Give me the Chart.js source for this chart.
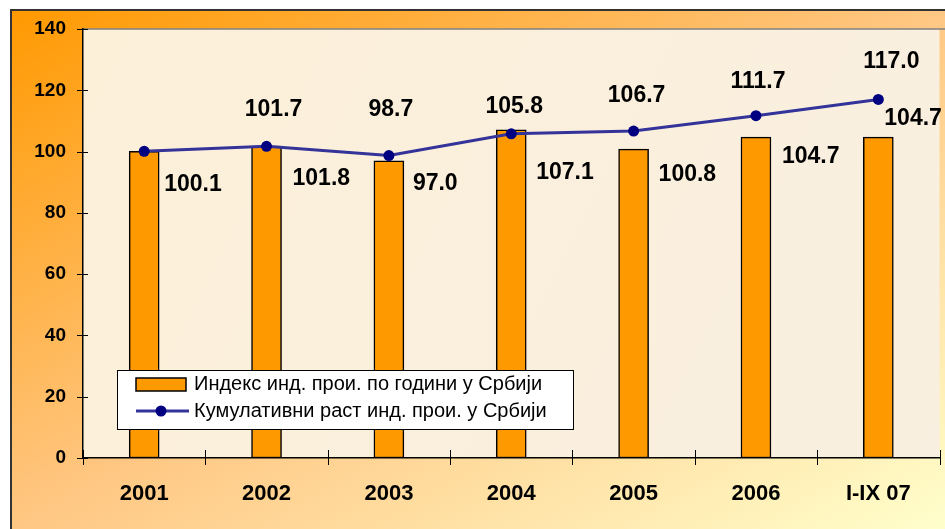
<!DOCTYPE html>
<html>
<head>
<meta charset="utf-8">
<script src="https://cdn.jsdelivr.net/npm/chart.js@4.4.0/dist/chart.umd.min.js"></script>
<style>
  html, body { margin: 0; padding: 0; background: #fff; }
  canvas { display: block; }
</style>
</head>
<body>
<canvas id="chart" width="945" height="529"></canvas>
<script>
// --- data ---
const CATEGORIES = ['2001', '2002', '2003', '2004', '2005', '2006', 'I-IX 07'];
const INDEX_BY_YEAR = [100.1, 101.8, 97.0, 107.1, 100.8, 104.7, 104.7];
const CUMULATIVE = [100.1, 101.7, 98.7, 105.8, 106.7, 111.7, 117.0];
const SHOW_CUM_LABEL = [false, true, true, true, true, true, true];
const SERIES_NAMES = [
  'Индекс инд. прои. по години у Србији',
  'Кумулативни раст инд. прои. у Србији'
];
const Y_MIN = 0, Y_MAX = 140, Y_STEP = 20;

// label placement (hand-placed in the original): [dx, dy] in px
const BAR_LABEL_POS  = [[5, 33], [11, 33], [9, 23], [10, 43], [10, 26], [11, 19], [-9, -19]];
const LINE_LABEL_POS = [[0, -36], [7, -37], [2, -46], [3, -27], [3, -35], [2, -34], [13, -38]];

const FONT = '"Liberation Sans", Arial, sans-serif';
const ORANGE = '#FF9900';
const NAVY_LINE = '#333399';
const NAVY_DOT = '#000080';

Chart.defaults.font.family = FONT;
Chart.defaults.color = '#000';

// frame background + plot area
const framePlugin = {
  id: 'frame',
  beforeDraw(chart) {
    const { ctx, width, height, chartArea: a } = chart;
    ctx.save();
    ctx.fillStyle = '#fff';
    ctx.fillRect(0, 0, width, height);

    ctx.save();
    ctx.translate(10, 9);
    ctx.scale(width - 10, height - 9);
    const g = ctx.createLinearGradient(0, 0, 1, 1);
    g.addColorStop(0, '#FF9900');
    g.addColorStop(0.5, '#FFC783');
    g.addColorStop(1, '#FFFFCC');
    ctx.fillStyle = g;
    ctx.fillRect(0, 0, 1, 1);
    ctx.restore();

    ctx.strokeStyle = '#333';
    ctx.lineWidth = 2;
    ctx.beginPath();
    ctx.moveTo(11, height);
    ctx.lineTo(11, 10);
    ctx.lineTo(width, 10);
    ctx.stroke();

    const pg = ctx.createLinearGradient(a.left, a.top, a.right, a.bottom);
    pg.addColorStop(0, '#FCF0D9');
    pg.addColorStop(1, '#F9EFE0');
    ctx.fillStyle = pg;
    ctx.fillRect(a.left, a.top, a.right - a.left, a.bottom - a.top);

    ctx.strokeStyle = '#808080';
    ctx.lineWidth = 1.5;
    ctx.beginPath();
    ctx.moveTo(a.left, a.top);
    ctx.lineTo(width, a.top);
    ctx.stroke();
    ctx.restore();
  }
};

// tick marks crossing the axes
const tickMarksPlugin = {
  id: 'tickMarks',
  afterDraw(chart) {
    const { ctx, scales: { x, y }, chartArea: a } = chart;
    ctx.save();
    ctx.strokeStyle = '#000';
    ctx.lineWidth = 1;
    ctx.beginPath();
    y.ticks.forEach((t, i) => {
      const py = Math.round(y.getPixelForTick(i)) + 0.5;
      ctx.moveTo(a.left - 6, py);
      ctx.lineTo(a.left + 5, py);
    });
    for (let i = 0; i <= CATEGORIES.length; i++) {
      const px = Math.round(x.getPixelForValue(i - 0.5)) + 0.5;
      ctx.moveTo(px, a.bottom - 8);
      ctx.lineTo(px, a.bottom + 7);
    }
    ctx.stroke();
    ctx.restore();
  }
};

// value labels
const valueLabelsPlugin = {
  id: 'valueLabels',
  afterDatasetsDraw(chart) {
    const ctx = chart.ctx;
    const bars = chart.getDatasetMeta(0).data;
    const pts = chart.getDatasetMeta(1).data;
    ctx.save();
    ctx.font = 'bold 23px ' + FONT;
    ctx.fillStyle = '#000';
    ctx.textBaseline = 'middle';
    ctx.textAlign = 'left';
    bars.forEach((b, i) => {
      const [dx, dy] = BAR_LABEL_POS[i];
      ctx.fillText(INDEX_BY_YEAR[i].toFixed(1), b.x + b.width / 2 + dx, b.y + dy);
    });
    ctx.textAlign = 'center';
    pts.forEach((p, i) => {
      if (!SHOW_CUM_LABEL[i]) return;
      const [dx, dy] = LINE_LABEL_POS[i];
      ctx.fillText(CUMULATIVE[i].toFixed(1), p.x + dx, p.y + dy);
    });
    ctx.restore();
  }
};

// legend box inside plot
const legendBoxPlugin = {
  id: 'legendBox',
  afterDraw(chart) {
    const ctx = chart.ctx;
    const ds = chart.data.datasets;
    ctx.save();
    ctx.fillStyle = '#fff';
    ctx.fillRect(117.5, 370.5, 456, 59);
    ctx.strokeStyle = '#000';
    ctx.lineWidth = 1;
    ctx.strokeRect(117.5, 370.5, 456, 59);

    ctx.fillStyle = ds[0].backgroundColor;
    ctx.fillRect(136, 378, 50, 13);
    ctx.lineWidth = 1.5;
    ctx.strokeRect(136, 378, 50, 13);

    ctx.strokeStyle = ds[1].borderColor;
    ctx.lineWidth = 3;
    ctx.beginPath();
    ctx.moveTo(136, 411);
    ctx.lineTo(189, 411);
    ctx.stroke();
    ctx.fillStyle = ds[1].pointBackgroundColor;
    ctx.beginPath();
    ctx.arc(161, 411, 5.5, 0, Math.PI * 2);
    ctx.fill();

    ctx.font = '20px ' + FONT;
    ctx.fillStyle = '#000';
    ctx.textBaseline = 'middle';
    ctx.textAlign = 'left';
    ctx.fillText(ds[0].label, 194, 384);
    ctx.fillText(ds[1].label, 194, 411);
    ctx.restore();
  }
};

new Chart(document.getElementById('chart'), {
  data: {
    labels: CATEGORIES,
    datasets: [
      {
        type: 'bar',
        label: SERIES_NAMES[0],
        data: INDEX_BY_YEAR,
        backgroundColor: ORANGE,
        borderColor: '#000',
        borderWidth: 1.5,
        borderSkipped: false,
        barThickness: 30,
        order: 1
      },
      {
        type: 'line',
        label: SERIES_NAMES[1],
        data: CUMULATIVE,
        borderColor: NAVY_LINE,
        borderWidth: 3,
        pointRadius: 5.5,
        pointBackgroundColor: NAVY_DOT,
        pointBorderColor: NAVY_DOT,
        pointBorderWidth: 0,
        tension: 0,
        order: 0
      }
    ]
  },
  options: {
    responsive: false,
    animation: false,
    layout: { padding: { left: 0, top: 29, right: 1, bottom: 0 } },
    plugins: {
      legend: { display: false },
      tooltip: { enabled: false }
    },
    scales: {
      x: {
        grid: { display: false },
        border: { display: true, color: '#000', width: 1.5 },
        ticks: { color: '#000', font: { size: 22, weight: 'bold' }, padding: 15, maxRotation: 0 },
        afterFit: (s) => { s.height = 71; }
      },
      y: {
        min: Y_MIN,
        max: Y_MAX,
        grid: { display: false },
        border: { display: true, color: '#000', width: 1.5 },
        ticks: { stepSize: Y_STEP, color: '#000', font: { size: 19, weight: 'bold' }, padding: 9 },
        afterFit: (s) => { s.width = 83; }
      }
    }
  },
  plugins: [framePlugin, tickMarksPlugin, valueLabelsPlugin, legendBoxPlugin]
});
</script>
</body>
</html>
